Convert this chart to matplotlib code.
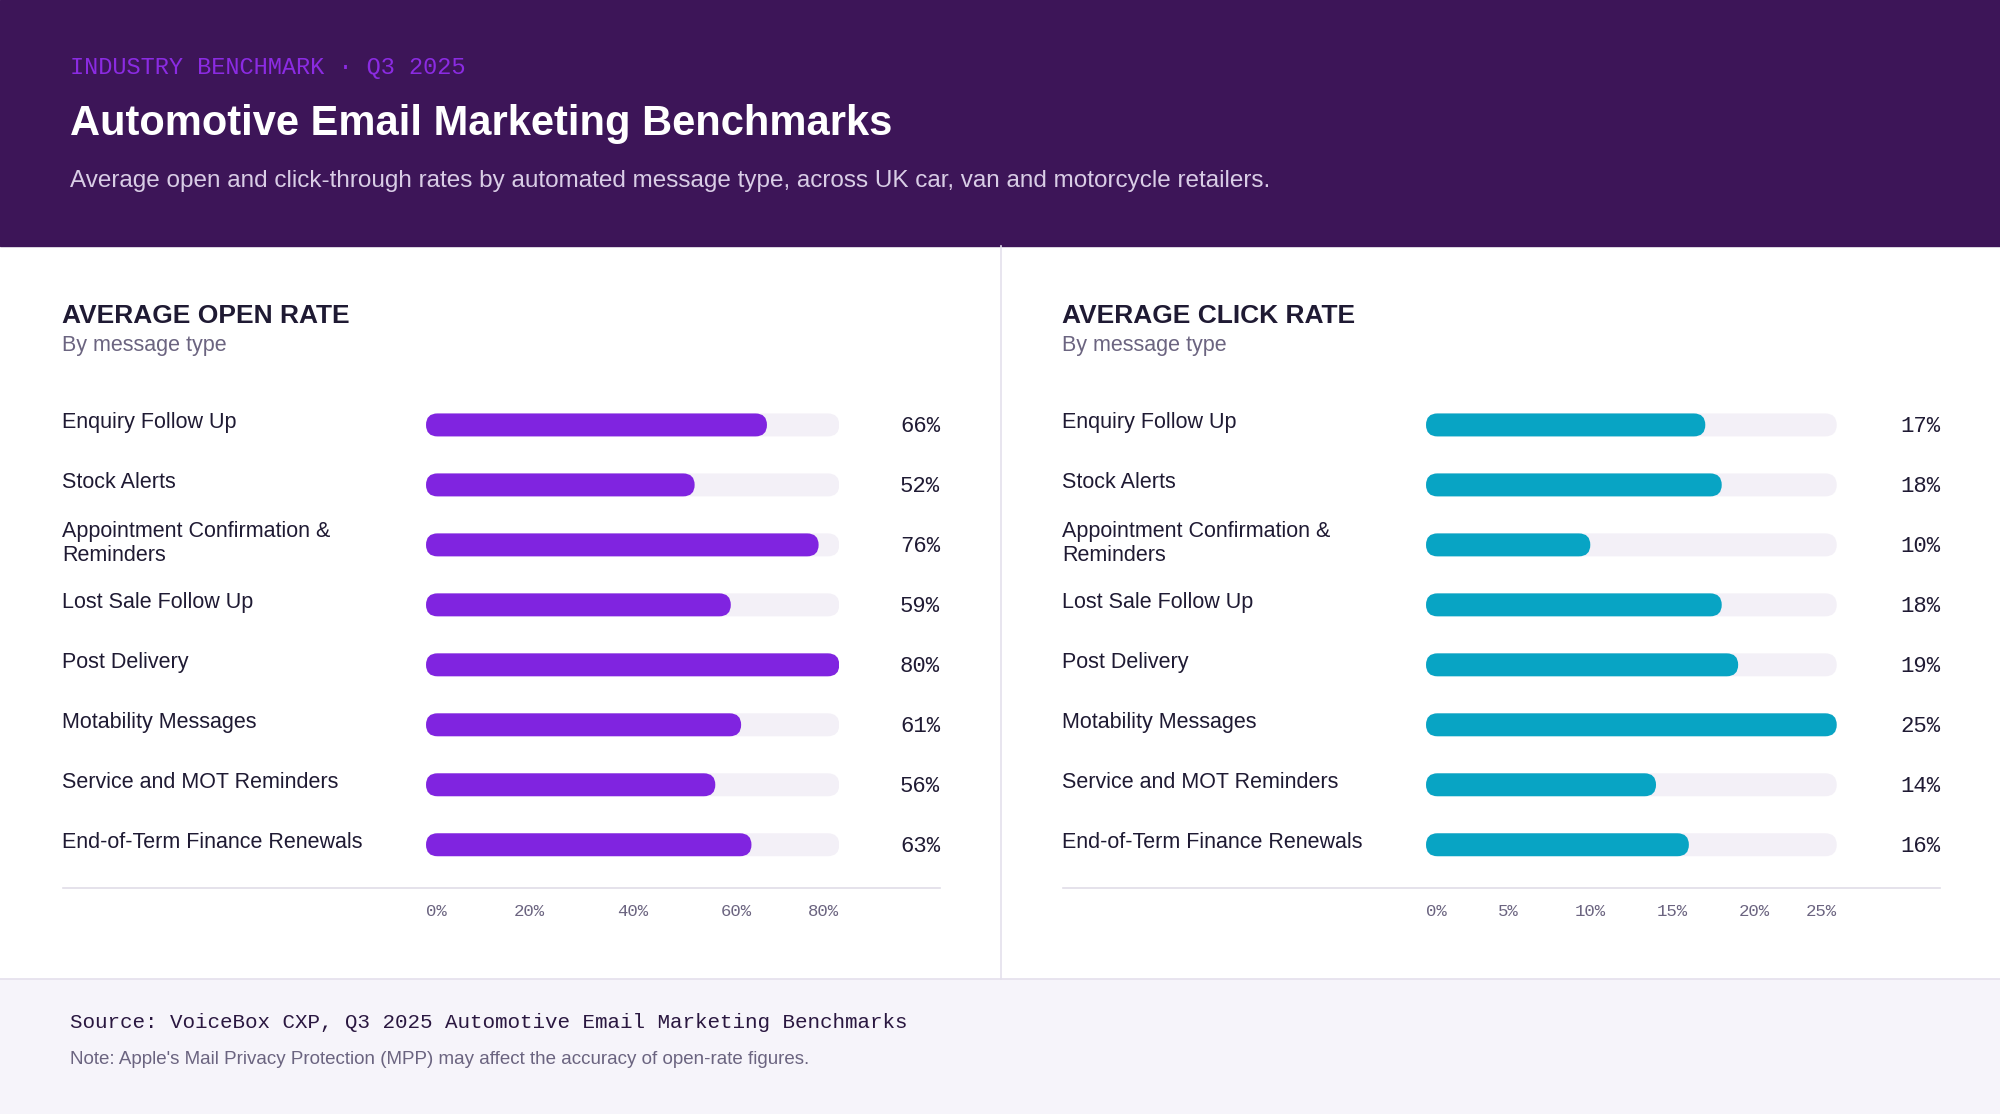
import matplotlib
matplotlib.use("Agg")
import matplotlib.pyplot as plt
from matplotlib.patches import FancyBboxPatch, Rectangle

categories = ["Enquiry Follow Up", "Stock Alerts", "Appointment Confirmation &\nReminders",
              "Lost Sale Follow Up", "Post Delivery", "Motability Messages",
              "Service and MOT Reminders", "End-of-Term Finance Renewals"]
open_rate = [66, 52, 76, 59, 80, 61, 56, 63]
click_rate = [17, 18, 10, 18, 19, 25, 14, 16]
open_ticks = [0, 20, 40, 60, 80]
click_ticks = [0, 5, 10, 15, 20, 25]

W, H = 1568.0, 873.0
fig = plt.figure(figsize=(20, 11.14), dpi=100)
S = 2000 / W
SANS = ["Liberation Sans", "DejaVu Sans"]
MONO = ["Liberation Mono", "DejaVu Sans Mono"]

bg = fig.add_axes([0, 0, 1, 1]); bg.set_xlim(0, W); bg.set_ylim(H, 0); bg.axis("off")
bg.add_patch(Rectangle((0, 0), W, 193, color="#3d1558"))
bg.add_patch(Rectangle((0, 767), W, H - 767, color="#f6f4fa"))
bg.plot([0, W], [767, 767], color="#e4e0ec", lw=1.2)
bg.plot([785, 785], [193, 767], color="#e4e0ec", lw=1.2)

def T(x, y, s, size, color, fam=SANS, weight="normal", ha="left", va="center"):
    bg.text(x, y, s, fontsize=size, color=color, family=fam, weight=weight, ha=ha, va=va)

T(55, 53, "INDUSTRY BENCHMARK · Q3 2025", 17, "#8b2be2", MONO)
T(55, 97, "Automotive Email Marketing Benchmarks", 30, "white", weight="bold")
T(55, 142, "Average open and click-through rates by automated message type, across UK car, van and motorcycle retailers.", 17.5, "#d9cde6")
T(55, 801, "Source: VoiceBox CXP, Q3 2025 Automotive Email Marketing Benchmarks", 15, "#2a1740", MONO)
T(55, 830, "Note: Apple's Mail Privacy Protection (MPP) may affect the accuracy of open-rate figures.", 13.5, "#6b6480")

rows_y = [333, 380, 427, 474, 521, 568, 615, 662]

def panel(x0, title, vals, ticks, color, tx0, tx1, vmax):
    T(x0, 248, title, 19, "#1f1a33", weight="bold")
    T(x0, 271, "By message type", 15.5, "#6b6480")
    bg.plot([x0, x0 + 688], [696, 696], color="#e0dde8", lw=1.2)
    for c, v, y in zip(categories, vals, rows_y):
        yy = y if "\n" not in c else y - 1
        T(x0, yy - 2 if "\n" not in c else yy, c, 15.5, "#1f1a33")
        T(x0 + 688, y + 1, f"{v}%", 16, "#1f1a33", MONO, ha="right")
    top, bot = 310, 685
    ax = fig.add_axes([tx0 / W, 1 - bot / H, (tx1 - tx0) / W, (bot - top) / H])
    ax.set_xlim(0, vmax); ax.set_ylim(bot, top); ax.axis("off")
    xpp = vmax / ((tx1 - tx0) * S); ypp = 1.0 / S
    r = 9 * S * xpp; asp = ypp / xpp
    for v, y in zip(vals, rows_y):
        for w, col in ((vmax, "#f3f0f7"), (v, color)):
            ax.add_patch(FancyBboxPatch((0, y - 9), w, 18, boxstyle=f"round,pad=0,rounding_size={r}",
                                        mutation_aspect=asp, fc=col, ec="none"))
    for t in ticks:
        px = tx0 + (tx1 - tx0) * t / vmax
        ha = "left" if t == 0 else ("right" if t == vmax else "center")
        T(px, 714, f"{t}%", 12.5, "#6b6480", MONO, ha=ha)

panel(49, "AVERAGE OPEN RATE", open_rate, open_ticks, "#8024e0", 334, 658, 80)
panel(833, "AVERAGE CLICK RATE", click_rate, click_ticks, "#08a4c4", 1118, 1440, 25)

fig.savefig("out.png", dpi=100)
